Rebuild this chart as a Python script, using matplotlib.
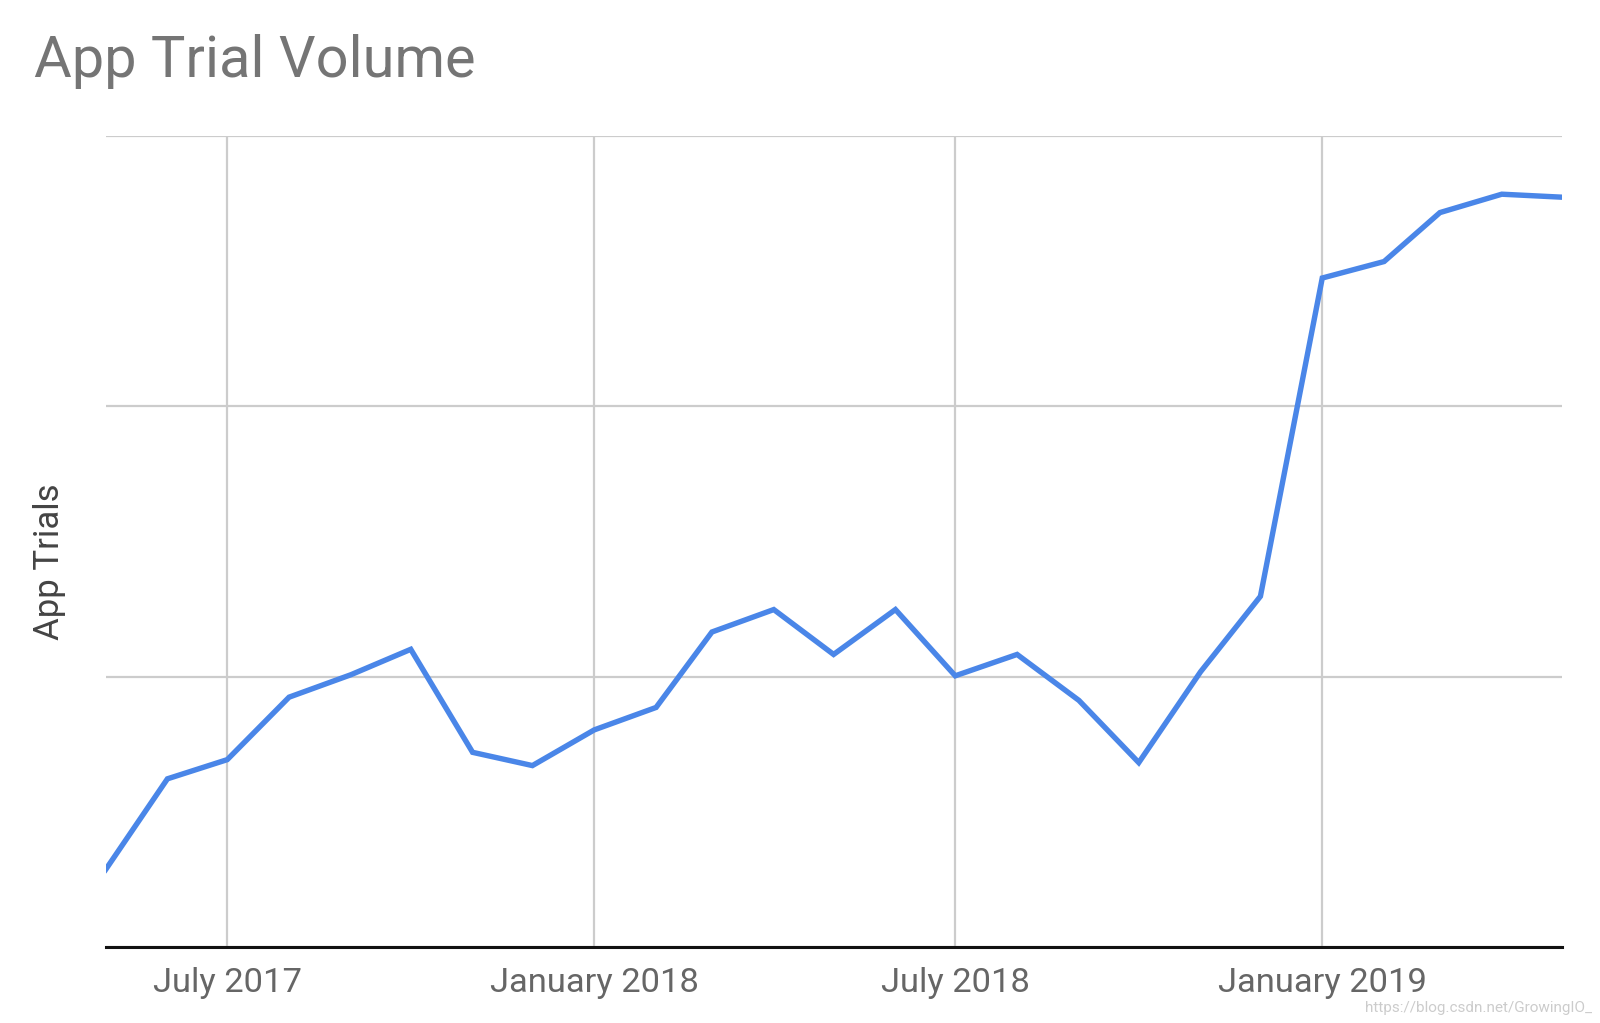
import pandas as pd
import matplotlib.pyplot as plt
import matplotlib.dates as mdates

plt.rcParams['font.family'] = ['Roboto', 'DejaVu Sans']

# Monthly app trials, May 2017 - May 2019
months = pd.date_range('2017-05-01', '2019-05-01', freq='MS')
app_trials = [287, 623, 694, 925, 1008, 1102, 721, 672, 804, 887,
              1166, 1249, 1083, 1249, 1004, 1083, 913, 683, 1019, 1298,
              2475, 2536, 2717, 2785, 2774]
tick_dates = pd.to_datetime(['2017-07-01', '2018-01-01', '2018-07-01', '2019-01-01'])
y_grid = [0, 1000, 2000, 3000]

fig = plt.figure(figsize=(16, 10.23), dpi=100)
ax = fig.add_axes([0.066, 0.074, 0.910, 0.793])

ax.plot(months, app_trials, color='#4a86e8', linewidth=3.9, solid_joinstyle='miter')

ax.set_xlim(months[0], months[-1])
ax.set_ylim(0, 3000)
ax.set_yticks(y_grid)
ax.set_yticklabels([])
ax.set_xticks(tick_dates)
ax.xaxis.set_major_formatter(mdates.DateFormatter('%B %Y'))
ax.tick_params(axis='both', length=0)
ax.tick_params(axis='x', labelsize=24.8, labelcolor='#666666', pad=14)

ax.grid(True, color='#cccccc', linewidth=1.6)
ax.set_axisbelow(True)
for side in ['top', 'right', 'left']:
    ax.spines[side].set_visible(False)
ax.spines['bottom'].set_color('#111111')
ax.spines['bottom'].set_linewidth(2.2)

ax.set_ylabel('App Trials', fontsize=25, color='#444444')
ax.yaxis.set_label_coords(-0.027, 0.475)

fig.text(0.021, 0.925, 'App Trial Volume', fontsize=41.6, color='#757575', va='baseline')
fig.text(0.995, 0.008, 'https://blog.csdn.net/GrowingIO_', fontsize=11,
         color='#cccccc', ha='right', va='bottom')

fig.savefig('out.png', dpi=100)
